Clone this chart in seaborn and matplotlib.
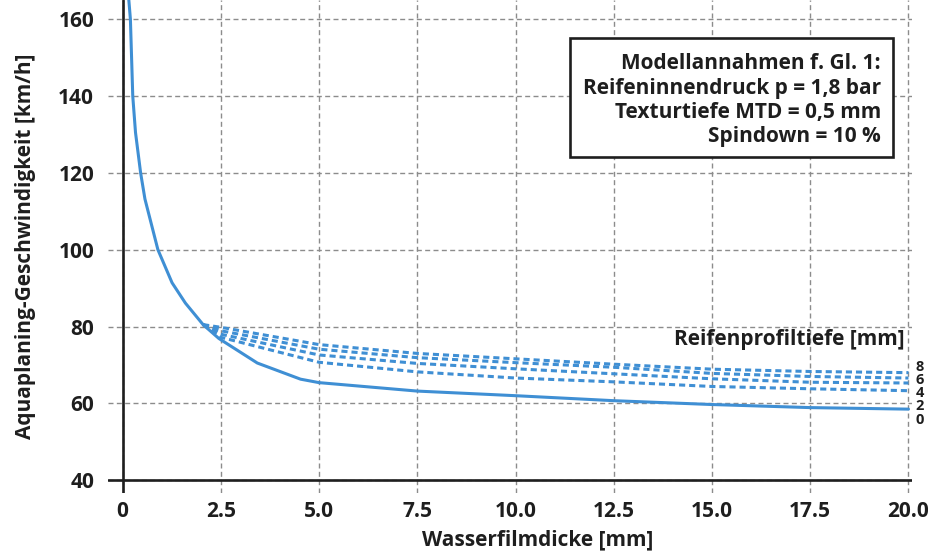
import numpy as np
import pandas as pd
import matplotlib
matplotlib.use("Agg")
import matplotlib.pyplot as plt
from matplotlib.patches import Rectangle
import seaborn as sns

# water film thickness [mm] and aquaplaning speed [km/h], profile depth 0 mm
film_0 = [0.16, 0.2, 0.26, 0.33, 0.46, 0.57, 0.9, 1.26, 1.6, 2.05, 2.45, 3.43, 4.53, 5.0, 7.5, 10.0, 12.5, 15.0, 17.5, 20.0]
speed_0 = [165.0, 160.0, 140.0, 130.5, 120.0, 113.2, 100.0, 91.4, 86.1, 80.5, 76.9, 70.5, 66.3, 65.4, 63.2, 62.0, 60.7, 59.7, 58.9, 58.5]

# dashed curves for profile depths 2..8 mm
film_p = [2.05, 2.5, 5.0, 7.5, 10.0, 12.5, 15.0, 17.5, 20.0]
speed_p2 = [80.5, 77.2, 70.7, 68.2, 66.6, 65.6, 64.4, 63.8, 63.3]
speed_p4 = [80.5, 78.0, 72.6, 70.4, 69.0, 67.7, 66.4, 65.5, 65.3]
speed_p6 = [80.5, 78.9, 74.1, 71.9, 70.6, 69.4, 67.8, 67.0, 66.6]
speed_p8 = [80.5, 79.8, 75.3, 73.0, 71.6, 70.2, 68.9, 68.3, 68.0]

depth_labels = ["8", "6", "4", "2", "0"]
x_ticks = [0, 2.5, 5.0, 7.5, 10.0, 12.5, 15.0, 17.5, 20.0]
x_tick_labels = ["0", "2.5", "5.0", "7.5", "10.0", "12.5", "15.0", "17.5", "20.0"]
y_ticks = [40, 60, 80, 100, 120, 140, 160]

box_lines = [
    "Modellannahmen f. Gl. 1:",
    "Reifeninnendruck p = 1,8 bar",
    "Texturtiefe MTD = 0,5 mm",
    "Spindown = 10 %",
]

BLUE = "#3f8fd4"
INK = "#1e1e1e"
W, H = 929, 551


def main():
    sns.set_theme(style="white")
    plt.rcParams["font.family"] = ["Open Sans", "DejaVu Sans"]
    plt.rcParams["font.weight"] = "bold"

    fig = plt.figure(figsize=(W / 100, H / 100), dpi=100)
    ax = fig.add_axes([108 / W, (H - 493) / H, (912 - 108) / W, 493 / H])
    ax.set_xlim(-0.37, 20.09)
    ax.set_ylim(36.67, 165.0)

    ax.grid(True, color="#8c8c8c", linestyle=(0, (3.6, 2.4)), linewidth=1.0)
    ax.set_xticks(x_ticks)
    ax.set_xticklabels(x_tick_labels)
    ax.set_yticks(y_ticks)
    ax.tick_params(length=0, labelsize=15, colors=INK)
    ax.tick_params(axis="y", pad=10)
    ax.tick_params(axis="x", pad=6)
    for s in ax.spines.values():
        s.set_visible(False)

    ax.axhline(40, color=INK, lw=1.9, zorder=3)
    ax.axvline(0, color=INK, lw=1.9, zorder=3)

    main_df = pd.DataFrame({"film": film_0, "speed": speed_0})
    sns.lineplot(data=main_df, x="film", y="speed", color=BLUE, lw=2.2,
                 ax=ax, zorder=4, sort=False)

    for vals in [speed_p2, speed_p4, speed_p6, speed_p8]:
        df = pd.DataFrame({"film": film_p, "speed": vals})
        sns.lineplot(data=df, x="film", y="speed", color=BLUE, lw=2.2,
                     linestyle=(0, (2.0, 1.3)), ax=ax, zorder=4, sort=False)

    ax.set_xlabel("Wasserfilmdicke [mm]", fontsize=15, fontweight="bold",
                  color=INK)
    ax.xaxis.set_label_coords(0.534, -0.073)
    ax.set_ylabel("Aquaplaning-Geschwindigkeit [km/h]", fontsize=15,
                  fontweight="bold", color=INK, labelpad=16)

    # profile depth labels at the right end
    ax.text(19.9, 76.5, "Reifenprofiltiefe [mm]", ha="right", va="center",
            fontsize=15, color=INK)
    label_y = [69.5, 66.1, 62.7, 59.3, 55.7]
    for lab, yy in zip(depth_labels, label_y):
        ax.text(20.28, yy, lab, ha="center", va="center", fontsize=10.5,
                color=INK, clip_on=False)

    # assumptions box
    fig.patches.append(Rectangle((570 / W, 1 - 157 / H), (893 - 570) / W, (157 - 38) / H,
                                 transform=fig.transFigure, fill=True, facecolor="white",
                                 edgecolor=INK, lw=1.9, zorder=5))
    for i, line in enumerate(box_lines):
        fig.text(881 / W, 1 - (64 + 24.3 * i) / H, line, ha="right", va="center",
                 fontsize=15, color=INK, zorder=6)

    fig.savefig("out.png", dpi=100)
    plt.close(fig)


if __name__ == "__main__":
    main()
